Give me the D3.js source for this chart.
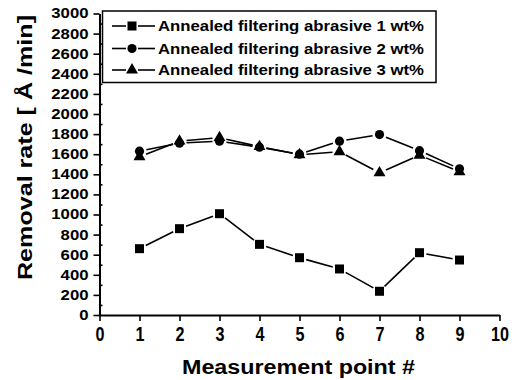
<!DOCTYPE html>
<html>
<head>
<meta charset="utf-8">
<script src="https://cdn.jsdelivr.net/npm/d3@7"></script>
<style>
    body { margin: 0; background: #fff; }
    text { font-family: "Liberation Sans", Arial, sans-serif; font-weight: bold; fill: #000; }
</style>
</head>
<body>
<svg id="chart" width="517" height="380"></svg>
<script>
const points = [1, 2, 3, 4, 5, 6, 7, 8, 9];
const abrasive1 = [660, 859, 1008, 703, 570, 458, 236, 620, 547];
const abrasive2 = [1630, 1710, 1730, 1670, 1600, 1730, 1795, 1635, 1455];
const abrasive3 = [1575, 1730, 1765, 1675, 1595, 1625, 1415, 1590, 1425];
const seriesNames = [
    'Annealed filtering abrasive 1 wt%',
    'Annealed filtering abrasive 2 wt%',
    'Annealed filtering abrasive 3 wt%'
];
const xTicks = [0, 1, 2, 3, 4, 5, 6, 7, 8, 9, 10];
const yTicks = [0, 200, 400, 600, 800, 1000, 1200, 1400, 1600, 1800, 2000, 2200, 2400, 2600, 2800, 3000];
const yMinorTicks = [100, 300, 500, 700, 900, 1100, 1300, 1500, 1700, 1900, 2100, 2300, 2500, 2700, 2900];

const symbols = [d3.symbolSquare, d3.symbolCircle, d3.symbolTriangle];
const symbolSizes = [81, 66, 62];

const svg = d3.select('#chart');
const x = d3.scaleLinear().domain([0, 10]).range([99.5, 499.5]);
const y = d3.scaleLinear().domain([0, 3000]).range([315, 13.5]);

// y axis
const yAxis = svg.append('g')
    .attr('transform', `translate(${x(0)},0)`)
    .call(d3.axisLeft(y).tickValues(yTicks).tickFormat(d3.format('d'))
        .tickSize(6).tickSizeOuter(0).tickPadding(5));
yAxis.selectAll('text')
    .style('font-size', '14px')
    .attr('textLength', d => String(d).length * 9.3)
    .attr('lengthAdjust', 'spacingAndGlyphs');

svg.append('g')
    .attr('transform', `translate(${x(0)},0)`)
    .call(d3.axisRight(y).tickValues(yMinorTicks).tickSize(3).tickFormat(''))
    .select('.domain').remove();

// x axis
const xAxis = svg.append('g')
    .attr('transform', `translate(0,${y(0)})`)
    .call(d3.axisBottom(x).tickValues(xTicks).tickFormat(d3.format('d'))
        .tickSize(6).tickSizeOuter(0).tickPadding(6));
xAxis.selectAll('text')
    .style('font-size', '20px')
    .attr('textLength', d => String(d).length * 9)
    .attr('lengthAdjust', 'spacingAndGlyphs');

svg.selectAll('.domain').attr('stroke-width', 2);
svg.selectAll('.tick line').attr('stroke-width', 1.6);

// axis titles
svg.append('text')
    .attr('text-anchor', 'middle')
    .attr('transform', 'translate(31.5,147.5) rotate(-90)')
    .style('font-size', '21px')
    .attr('textLength', 265)
    .attr('lengthAdjust', 'spacingAndGlyphs')
    .text('Removal rate [ Å /min]');

svg.append('text')
    .attr('text-anchor', 'middle')
    .attr('x', 298.5)
    .attr('y', 374)
    .style('font-size', '20px')
    .attr('textLength', 233)
    .attr('lengthAdjust', 'spacingAndGlyphs')
    .text('Measurement point #');

// series, lines stop short of the markers
const gap = 7;
[abrasive1, abrasive2, abrasive3].forEach((vals, s) => {
    let g = svg.append('g');
    let pts = points.map((p, i) => [x(p), y(vals[i])]);
    for (let i = 0; i < pts.length - 1; i++) {
        let [x1, y1] = pts[i], [x2, y2] = pts[i + 1];
        let len = Math.hypot(x2 - x1, y2 - y1);
        let ux = (x2 - x1) / len, uy = (y2 - y1) / len;
        g.append('line')
            .attr('x1', x1 + ux * gap).attr('y1', y1 + uy * gap)
            .attr('x2', x2 - ux * gap).attr('y2', y2 - uy * gap)
            .attr('stroke', '#000')
            .attr('stroke-width', 1.6);
    }
    g.selectAll('path')
        .data(pts)
        .enter()
        .append('path')
        .attr('d', d3.symbol().type(symbols[s]).size(symbolSizes[s]))
        .attr('transform', d => `translate(${d[0]},${d[1]})`)
        .attr('fill', '#000');
});

// legend
const legend = svg.append('g');
legend.append('rect')
    .attr('x', 102.5).attr('y', 11)
    .attr('width', 333.5).attr('height', 71.5)
    .attr('fill', '#fff')
    .attr('stroke', '#000')
    .attr('stroke-width', 1.5);

const rowY = [26, 48.5, 70];
seriesNames.forEach((name, i) => {
    let row = legend.append('g').attr('transform', `translate(0,${rowY[i]})`);
    row.append('line').attr('x1', 112).attr('x2', 126).attr('stroke', '#000').attr('stroke-width', 1.6);
    row.append('line').attr('x1', 138).attr('x2', 155).attr('stroke', '#000').attr('stroke-width', 1.6);
    row.append('path')
        .attr('d', d3.symbol().type(symbols[i]).size(symbolSizes[i]))
        .attr('transform', 'translate(132,0)')
        .attr('fill', '#000');
    row.append('text')
        .attr('x', 158)
        .attr('y', 5)
        .style('font-size', '14px')
        .attr('textLength', 266)
        .attr('lengthAdjust', 'spacingAndGlyphs')
        .text(name);
});
</script>
</body>
</html>
